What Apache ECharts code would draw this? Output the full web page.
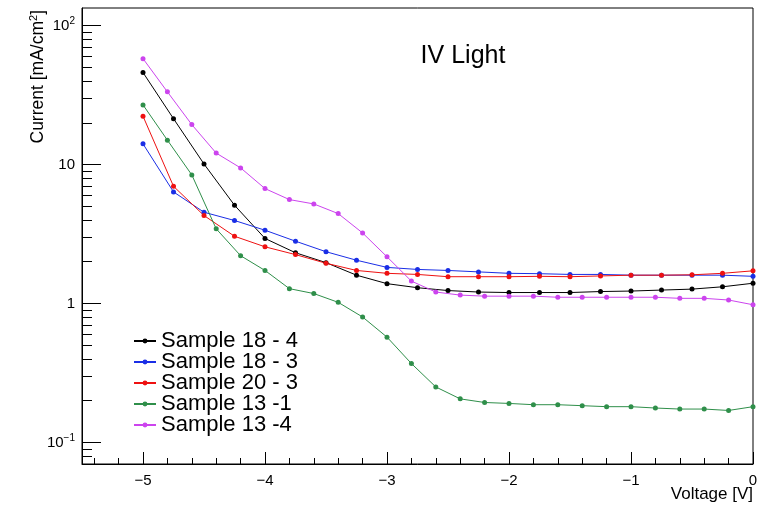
<!DOCTYPE html>
<html>
<head>
<meta charset="utf-8">
<title>IV Light</title>
<script src="https://cdn.jsdelivr.net/npm/echarts@6/dist/echarts.min.js"></script>
<style>
  html, body { margin: 0; padding: 0; background: #fff; }
  #chart { width: 766px; height: 506px; }
</style>
</head>
<body>
<div id="chart"></div>
<script>
// voltage steps (V)
var voltQuarter = [-5, -4.75, -4.5, -4.25, -4, -3.75, -3.5, -3.25, -3, -2.75, -2.5,
  -2.25, -2, -1.75, -1.5, -1.25, -1, -0.75, -0.5, -0.25, 0];
var voltFifth = [-5, -4.8, -4.6, -4.4, -4.2, -4, -3.8, -3.6, -3.4, -3.2, -3, -2.8, -2.6,
  -2.4, -2.2, -2, -1.8, -1.6, -1.4, -1.2, -1, -0.8, -0.6, -0.4, -0.2, 0];

// current density (mA/cm2)
var sample18_4 = [46, 21.4, 10.1, 5.1, 2.94, 2.32, 1.97, 1.60, 1.39, 1.30, 1.24,
  1.21, 1.20, 1.20, 1.20, 1.22, 1.23, 1.25, 1.27, 1.32, 1.40];
var sample18_3 = [14.1, 6.36, 4.54, 3.96, 3.37, 2.81, 2.36, 2.05, 1.82, 1.76, 1.73,
  1.69, 1.65, 1.64, 1.62, 1.62, 1.60, 1.60, 1.60, 1.60, 1.57];
var sample20_3 = [22.3, 6.98, 4.30, 3.05, 2.56, 2.25, 1.95, 1.73, 1.65, 1.62, 1.56,
  1.56, 1.56, 1.57, 1.56, 1.58, 1.60, 1.60, 1.61, 1.65, 1.72];
var sample13_1 = [26.9, 15.0, 8.43, 3.45, 2.21, 1.73, 1.28, 1.18, 1.02, 0.80, 0.573,
  0.370, 0.251, 0.206, 0.194, 0.191, 0.187, 0.187, 0.184, 0.181, 0.181, 0.177,
  0.174, 0.174, 0.170, 0.181];
var sample13_4 = [57.9, 33.4, 19.4, 12.1, 9.47, 6.72, 5.6, 5.21, 4.44, 3.22, 2.17,
  1.45, 1.21, 1.15, 1.13, 1.13, 1.13, 1.11, 1.11, 1.11, 1.11, 1.11, 1.09, 1.09,
  1.06, 0.98];

// ticks
var xMajor = [-5, -4, -3, -2, -1, 0];
var xMinor = [-5.4, -5.2, -4.8, -4.6, -4.4, -4.2, -3.8, -3.6, -3.4, -3.2, -2.8, -2.6,
  -2.4, -2.2, -1.8, -1.6, -1.4, -1.2, -0.8, -0.6, -0.4, -0.2];
var yMajor = [0.1, 1, 10, 100];
var yMinor = [0.08, 0.09, 0.2, 0.3, 0.4, 0.5, 0.6, 0.7, 0.8, 0.9,
  2, 3, 4, 5, 6, 7, 8, 9, 20, 30, 40, 50, 60, 70, 80, 90];

var FONT = 'Liberation Sans';

function pairs(xs, ys) {
  return ys.map(function (y, i) { return [xs[i], y]; });
}

function mkSeries(name, xs, ys, color) {
  return {
    name: name,
    type: 'line',
    xAxisIndex: 0,
    yAxisIndex: 0,
    data: pairs(xs, ys),
    symbol: 'circle',
    symbolSize: 5,
    showAllSymbol: true,
    color: color,
    lineStyle: { width: 1, color: color },
    itemStyle: { color: color },
    emphasis: { disabled: true }
  };
}

// tick-only axis (no line, no labels)
function tickAxis(base, values, len) {
  return Object.assign({}, base, {
    axisLine: { show: false, onZero: false },
    splitLine: { show: false },
    axisTick: { show: true, inside: true, length: len, customValues: values,
      lineStyle: { color: '#000', width: 1 } },
    axisLabel: { show: false }
  });
}

var chart = echarts.init(document.getElementById('chart'));

var xBase = { type: 'value', min: -5.5, max: 0, position: 'bottom' };
var yBase = { type: 'log', min: 0.07, max: 134, position: 'left' };

chart.setOption({
  animation: false,
  backgroundColor: '#fff',
  textStyle: { fontFamily: FONT },
  grid: {
    left: 82, right: 13, top: 8, bottom: 42,
    show: true, borderColor: '#000', borderWidth: 1,
    outerBoundsMode: 'none'
  },
  legend: {
    orient: 'vertical',
    left: 128, top: 325,
    itemWidth: 22, itemHeight: 6, itemGap: -1,
    selectedMode: false,
    textStyle: { fontFamily: FONT, fontSize: 22, color: '#000', lineHeight: 20 },
    data: ['Sample 18 - 4', 'Sample 18 - 3', 'Sample 20 - 3', 'Sample 13 -1', 'Sample 13 -4']
  },
  graphic: [
    {
      type: 'text', x: 463, y: 56,
      style: { text: 'IV Light', font: '25px "' + FONT + '"', fill: '#000',
        textAlign: 'center', textVerticalAlign: 'middle' }
    },
    {
      type: 'text', x: 753, y: 494,
      style: { text: 'Voltage [V]', font: '17px "' + FONT + '"', fill: '#000',
        textAlign: 'right', textVerticalAlign: 'middle' }
    },
    {
      type: 'text', x: 38, y: 10, rotation: Math.PI / 2,
      style: {
        text: '{a|Current [mA/cm}{s|2}{a|]}',
        textAlign: 'right', textVerticalAlign: 'middle', fill: '#000',
        rich: {
          a: { fontFamily: FONT, fontSize: 17.5, color: '#000', lineHeight: 20 },
          s: { fontFamily: FONT, fontSize: 11, color: '#000', verticalAlign: 'top', lineHeight: 20 }
        }
      }
    }
  ],
  xAxis: [
    Object.assign({}, xBase, {
      axisLine: { show: true, onZero: false, lineStyle: { color: '#000', width: 1 } },
      splitLine: { show: false },
      axisTick: { show: false },
      axisLabel: {
        customValues: xMajor, margin: 9, fontFamily: FONT, fontSize: 15, color: '#000',
        formatter: function (v) { return v < 0 ? '\u2212' + (-v) : String(v); }
      }
    }),
    tickAxis(xBase, xMajor, 12),
    tickAxis(xBase, xMinor, 6)
  ],
  yAxis: [
    Object.assign({}, yBase, {
      axisLine: { show: true, onZero: false, lineStyle: { color: '#000', width: 1 } },
      splitLine: { show: false },
      axisTick: { show: false },
      axisLabel: {
        customValues: yMajor, margin: 7, color: '#000',
        formatter: function (v) {
          if (v >= 99) return '{b|10}{s|2}';
          if (v < 0.5) return '{b|10}{s|\u22121}';
          return '{b|' + Math.round(v) + '}';
        },
        rich: {
          b: { fontFamily: FONT, fontSize: 15, color: '#000', lineHeight: 18 },
          s: { fontFamily: FONT, fontSize: 10, color: '#000', verticalAlign: 'top', lineHeight: 18 }
        }
      }
    }),
    tickAxis(yBase, yMajor, 19),
    tickAxis(yBase, yMinor, 10)
  ],
  series: [
    mkSeries('Sample 18 - 4', voltQuarter, sample18_4, '#000000'),
    mkSeries('Sample 18 - 3', voltQuarter, sample18_3, '#1a2ee6'),
    mkSeries('Sample 20 - 3', voltQuarter, sample20_3, '#ee1111'),
    mkSeries('Sample 13 -1', voltFifth, sample13_1, '#2f8f4a'),
    mkSeries('Sample 13 -4', voltFifth, sample13_4, '#cc44ee')
  ]
});
</script>
</body>
</html>
